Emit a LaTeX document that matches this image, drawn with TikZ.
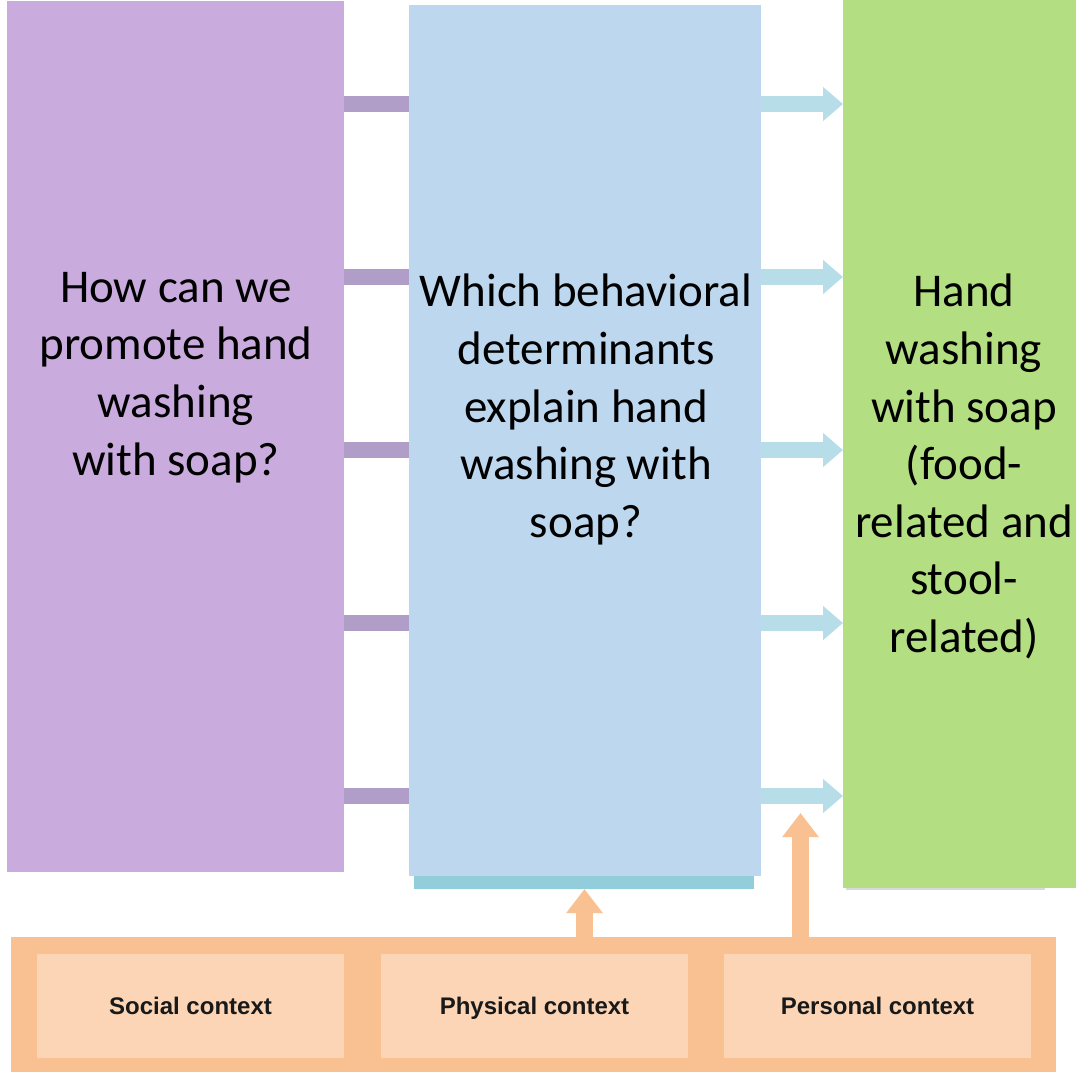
\documentclass[tikz,border=0pt]{standalone}
\usepackage{fontspec}
\setmainfont{Carlito}
\newfontfamily\labelfont{Liberation Sans}
\usetikzlibrary{arrows.meta}

\definecolor{purplebox}{HTML}{C9ABDE}
\definecolor{bluebox}{HTML}{BDD7EE}
\definecolor{greenbox}{HTML}{B3DE82}
\definecolor{purplebar}{HTML}{B09DC8}
\definecolor{bluearrow}{HTML}{B7DEE8}
\definecolor{tealstrip}{HTML}{92CDDC}
\definecolor{orangeouter}{HTML}{F9C091}
\definecolor{orangeinner}{HTML}{FBD5B5}
\definecolor{shadowgray}{HTML}{D9D9D9}

\tikzset{
  panel/.style={anchor=north west, inner sep=0pt, outer sep=0pt, draw=none},
  bigtext/.style={anchor=north, align=center, inner sep=0pt,
    font=\fontsize{47}{57.6}\selectfont, text=black},
  ctxbox/.style={panel, fill=orangeinner, minimum width=307pt, minimum height=104pt},
  ctxtext/.style={anchor=base, inner sep=0pt,
    font=\labelfont\bfseries\fontsize{24}{28}\selectfont, text=black!90},
  linkbar/.style={draw=purplebar, line width=16pt},
  flowarrow/.style={draw=bluearrow, line width=16pt,
    -{Triangle[length=20pt,width=33pt]}},
  liftarrow/.style={draw=orangeouter, line width=17pt,
    -{Triangle[length=24pt,width=35pt]}}
}

\begin{document}
\begin{tikzpicture}[x=1pt,y=-1pt]
\useasboundingbox (0,0) rectangle (1076,1072);

% three main columns
\node[panel, fill=purplebox, minimum width=337pt, minimum height=871pt] (promote) at (7,1) {};
\fill[tealstrip] (414,870) rectangle (754,889);
\node[panel, fill=bluebox, minimum width=352pt, minimum height=871pt] (determ) at (409,5) {};
\fill[shadowgray] (846,886) rectangle (1045,890);
\node[panel, fill=greenbox, minimum width=233pt, minimum height=888pt] (outcome) at (843,0) {};

% column texts
\node[bigtext] (promotetxt) at (176,272) {How can we\\promote hand\\washing\\with soap?};
\node[bigtext] (determtxt) at (586,274) {Which behavioral\\determinants\\explain hand\\washing with\\soap?};
\node[bigtext] (outcometxt) at (964,274) {Hand\\washing\\with soap\\(food-\\related and\\stool-\\related)};

% links between the columns
\foreach \yy in {104,277,450,623,796}{
  \draw[linkbar] (promote.east |- 0,\yy) -- (determ.west |- 0,\yy);
  \draw[flowarrow] (determ.east |- 0,\yy) -- (outcome.west |- 0,\yy);
}

% context band
\node[panel, fill=orangeouter, minimum width=1045pt, minimum height=135pt] (context) at (11,937) {};
\node[ctxbox] (social) at (37,954) {};
\node[ctxbox] (physical) at (381,954) {};
\node[ctxbox] (personal) at (724,954) {};
\node[ctxtext] (socialtxt) at (social.center |- 0,1014) {Social context};
\node[ctxtext] (physicaltxt) at (physical.center |- 0,1014) {Physical context};
\node[ctxtext] (personaltxt) at (personal.center |- 0,1014) {Personal context};

% influence of the context
\coordinate (liftA) at (584.5,889);
\coordinate (liftB) at (800.5,813);
\draw[liftarrow] (context.north -| liftA) -- (liftA);
\draw[liftarrow] (context.north -| liftB) -- (liftB);
\end{tikzpicture}
\end{document}
